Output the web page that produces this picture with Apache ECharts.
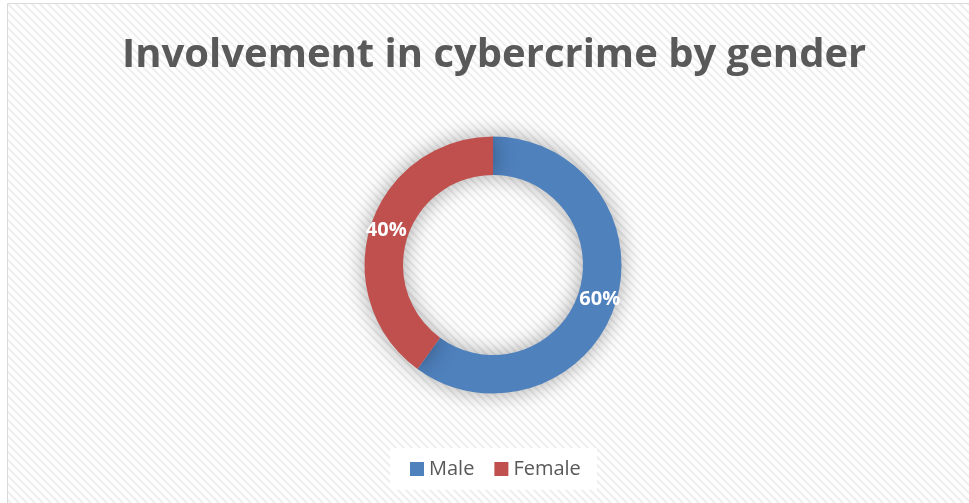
<!DOCTYPE html>
<html><head><meta charset="utf-8">
<script src="https://cdn.jsdelivr.net/npm/echarts@6/dist/echarts.min.js"></script>
<style>html,body{margin:0;padding:0;background:#fff}#c{width:969px;height:503px}</style>
</head><body><div id="c"></div>
<script>
var chartTitle = 'Involvement in cybercrime by gender';
var categories = ['Male', 'Female'];
var values = [60, 40];
var colors = ['#4F81BD', '#C0504D'];

var pc = document.createElement('canvas');
pc.width = 8; pc.height = 8;
var g = pc.getContext('2d');
g.fillStyle = '#ffffff'; g.fillRect(0,0,8,8);
g.strokeStyle = '#eeeeee'; g.lineWidth = 2;
g.beginPath();
g.moveTo(-4,0); g.lineTo(12,16);
g.moveTo(-4,-8); g.lineTo(12,8);
g.moveTo(-4,-16); g.lineTo(12,0);
g.stroke();

var chart = echarts.init(document.getElementById('c'), null, {renderer:'canvas'});
chart.setOption({
  backgroundColor: '#ffffff',
  graphic: [{
    type: 'rect', z: -10, silent: true,
    shape: {x: 7.5, y: 3.5, width: 1000, height: 600},
    style: {fill: {image: pc, repeat: 'repeat'}, stroke: '#d9d9d9', lineWidth: 1}
  }],
  title: {
    text: chartTitle, left: 117, top: 31,
    textStyle: {fontFamily: 'Open Sans', fontWeight: 'bold', fontSize: 40, color: '#595959'}
  },
  legend: {
    data: categories, bottom: 13, left: 390,
    backgroundColor: '#ffffff', padding: [11, 16, 11, 20],
    itemWidth: 14, itemHeight: 14, itemGap: 20, icon: 'rect',
    textStyle: {fontFamily: 'Open Sans', fontSize: 20, color: '#595959'}
  },
  series: [{
    type: 'pie', center: [493, 265], radius: [90, 128.5],
    startAngle: 90, clockwise: true, avoidLabelOverlap: false,
    silent: true,
    itemStyle: {shadowBlur: 22, shadowColor: 'rgba(0,0,0,0.35)', borderWidth: 0},
    label: {
      show: true, position: 'inside', formatter: '{d}%',
      fontFamily: 'Open Sans', fontWeight: 'bold', fontSize: 20, color: '#ffffff'
    },
    labelLine: {show: false},
    data: categories.map(function(c, i){ return {name: c, value: values[i], itemStyle: {color: colors[i]}}; })
  }]
});
</script></body></html>
